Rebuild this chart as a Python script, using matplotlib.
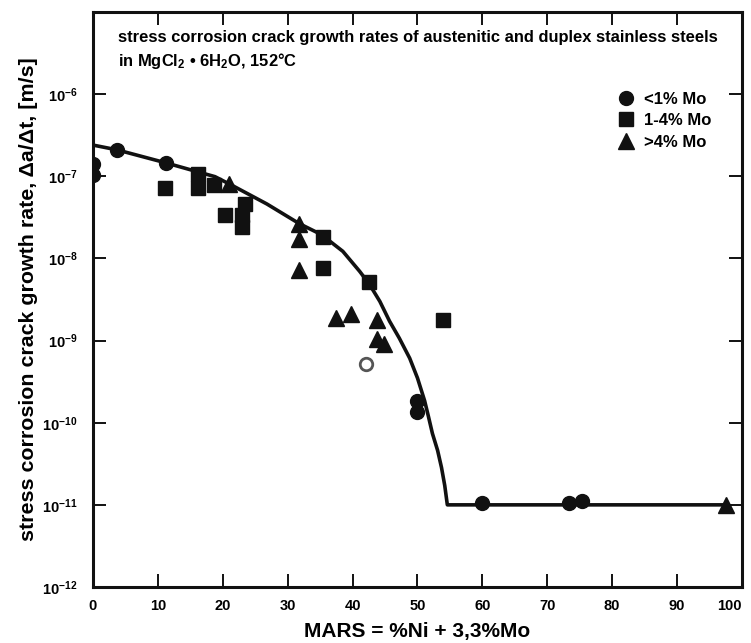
import math
import matplotlib
matplotlib.use("Agg")
import matplotlib.pyplot as plt
from matplotlib.ticker import FixedLocator, FuncFormatter

plt.rcParams['font.family'] = ['Liberation Sans', 'DejaVu Sans']
plt.rcParams['font.weight'] = 'bold'
plt.rcParams['mathtext.fontset'] = 'custom'
plt.rcParams['mathtext.rm'] = 'Liberation Sans:bold'
plt.rcParams['mathtext.bf'] = 'Liberation Sans:bold'
plt.rcParams['mathtext.it'] = 'Liberation Sans:bold'

# measured crack growth rates [m/s] vs MARS
low_mo_x = [0, 0, 3.7, 11.2, 50.0, 50.0, 60.0, 73.4, 75.4]
low_mo_y = [1.4e-7, 1.04e-7, 2.1e-7, 1.45e-7, 1.85e-10, 1.35e-10, 1.05e-11, 1.05e-11, 1.1e-11]

mid_mo_x = [11.1, 16.2, 16.2, 18.6, 20.3, 22.9, 23.5, 23.0, 35.4, 35.4, 42.5, 54.0]
mid_mo_y = [7.2e-8, 7.2e-8, 1.07e-7, 7.9e-8, 3.4e-8, 3.4e-8, 4.6e-8, 2.4e-8,
            1.8e-8, 7.6e-9, 5.1e-9, 1.78e-9]

high_mo_x = [20.9, 31.8, 31.7, 31.8, 37.5, 39.8, 43.7, 43.7, 44.8, 97.5]
high_mo_y = [8.1e-8, 2.65e-8, 1.74e-8, 7.3e-9, 1.87e-9, 2.1e-9, 1.78e-9, 1.05e-9,
             0.91e-9, 1.0e-11]

open_x = [42.1]
open_y = [5.2e-10]

# trend line
curve_x = [0, 3.7, 11.2, 18.8, 21.5, 26.8, 31.8, 35.2, 38.5, 41.1, 42.6, 44.2,
           45.7, 47.2, 48.8, 50.0, 51.1, 51.7, 52.3, 53.1, 53.7, 54.2, 54.6, 97.0]
curve_y = [2.4e-7, 2.1e-7, 1.46e-7, 9.9e-8, 7.7e-8, 4.6e-8, 2.65e-8, 1.95e-8,
           1.22e-8, 6.95e-9, 4.84e-9, 3.0e-9, 1.72e-9, 1.07e-9, 6.1e-10, 3.5e-10,
           1.85e-10, 1.18e-10, 7.4e-11, 4.6e-11, 2.85e-11, 1.72e-11, 1.0e-11, 1.0e-11]

x_ticks = [0, 10, 20, 30, 40, 50, 60, 70, 80, 90, 100]
y_ticks = [1e-12, 1e-11, 1e-10, 1e-9, 1e-8, 1e-7, 1e-6]

ink = '#111111'

fig = plt.figure(figsize=(7.51, 6.43), dpi=100)
ax = fig.add_axes([0.1238, 0.0871, 0.8642, 0.8942])

ax.plot(curve_x, curve_y, color=ink, lw=2.6, zorder=2, solid_joinstyle='round')
ax.plot(low_mo_x, low_mo_y, 'o', color=ink, ms=10, label='<1% Mo', zorder=3)
ax.plot(mid_mo_x, mid_mo_y, 's', color=ink, ms=9.5, label='1-4% Mo', zorder=3)
ax.plot(high_mo_x, high_mo_y, '^', color=ink, ms=12, label='>4% Mo', zorder=3)
ax.plot(open_x, open_y, 'o', mfc='white', mec='#555555', mew=2, ms=9, zorder=3)

ax.set_yscale('log')
ax.set_xlim(0, 100)
ax.set_ylim(1e-12, 1e-5)

for s in ax.spines.values():
    s.set_linewidth(2.2)
    s.set_color(ink)

ax.xaxis.set_major_locator(FixedLocator(x_ticks))
ax.yaxis.set_major_locator(FixedLocator(y_ticks))
ax.minorticks_off()
ax.xaxis.set_major_formatter(FuncFormatter(lambda v, p: f"{v:.0f}"))
ax.yaxis.set_major_formatter(
    FuncFormatter(lambda v, p: r"$\mathbf{10^{%d}}$" % round(math.log10(v))))

ax.tick_params(direction='in', length=9.5, width=1.4, color=ink,
               top=True, right=True, labelsize=10.5)
ax.tick_params(axis='x', pad=9)
ax.tick_params(axis='y', pad=11)

# keep the last x label inside the frame
fig.canvas.draw()
ax.get_xticklabels()[-1].set_horizontalalignment('right')

ax.set_xlabel("MARS = %Ni + 3,3%Mo", fontsize=15, fontweight='bold', labelpad=6)
ax.set_ylabel("stress corrosion crack growth rate, \u0394a/\u0394t, [m/s]",
              fontsize=15.4, fontweight='bold')
ax.yaxis.set_label_coords(-0.085, 0.5)

ax.text(0.038, 0.955,
        "stress corrosion crack growth rates of austenitic and duplex stainless steels",
        transform=ax.transAxes, fontsize=11.85, fontweight='bold', va='center', ha='left')
ax.text(0.038, 0.915, "in MgCl$_\\mathbf{2}$ \u2022 6H$_\\mathbf{2}$O, 152\u00b0C",
        transform=ax.transAxes, fontsize=11.85, fontweight='bold', va='center', ha='left')

ax.legend(loc='upper left', bbox_to_anchor=(0.795, 0.876), frameon=False,
          borderpad=0, handlelength=1.0, handletextpad=0.6, labelspacing=0.4,
          prop={'size': 12, 'weight': 'bold'})

fig.savefig("out.png", dpi=100)
